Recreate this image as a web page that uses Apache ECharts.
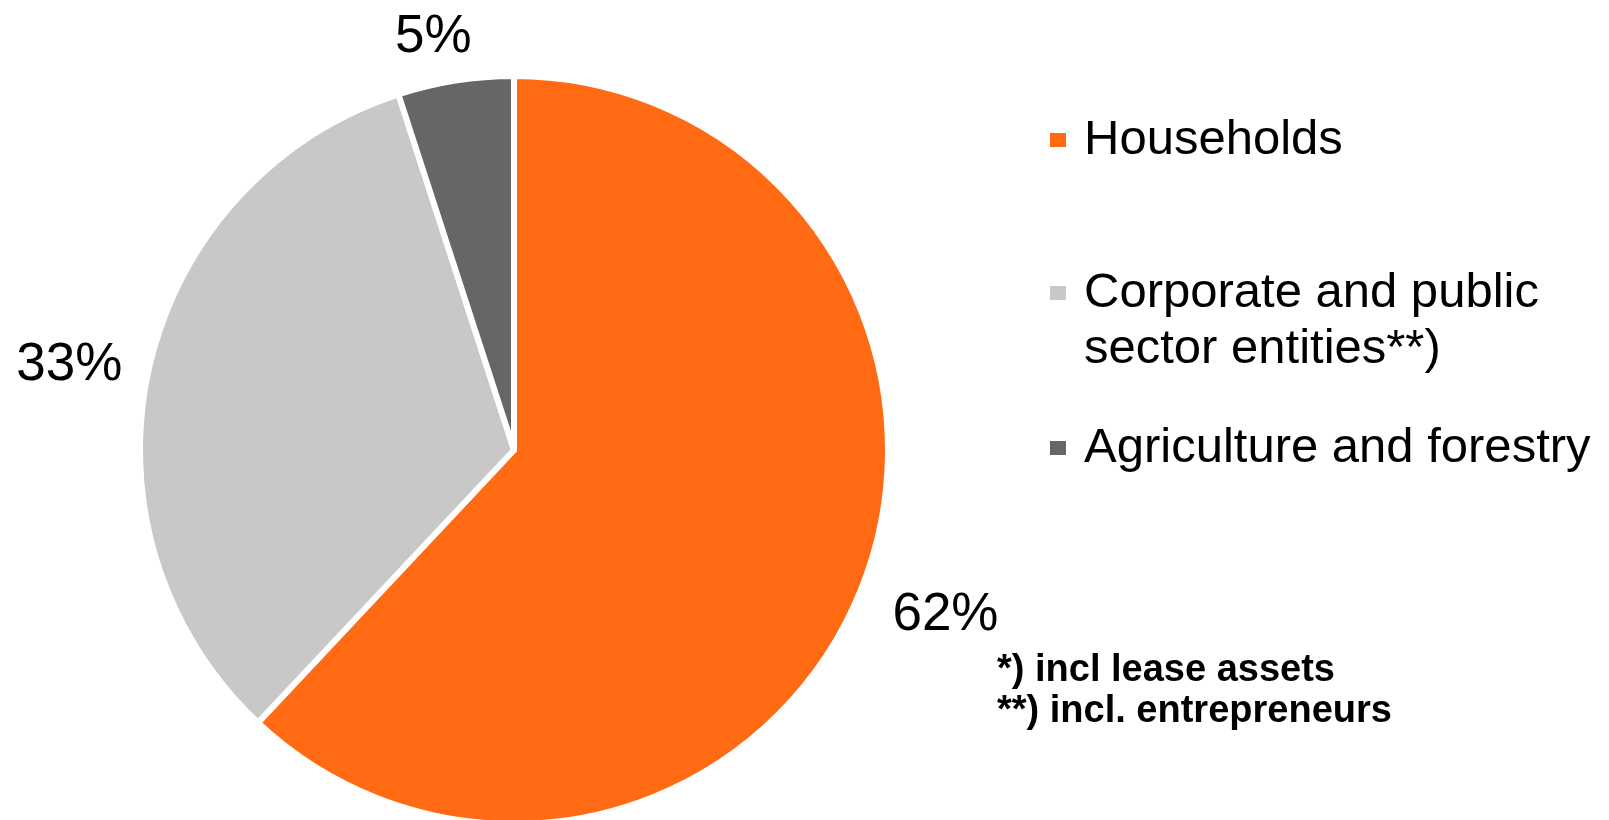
<!DOCTYPE html>
<html>
<head>
<meta charset="utf-8">
<title>Loan portfolio by customer group</title>
<script src="https://cdn.jsdelivr.net/npm/echarts@6/dist/echarts.min.js"></script>
<style>
  html, body { margin: 0; padding: 0; background: #fff; }
  #chart { width: 1609px; height: 820px; }
</style>
</head>
<body>
<div id="chart"></div>
<script>
// data
var categories = ['Households', 'Corporate and public\nsector entities**)', 'Agriculture and forestry'];
var shares = [62, 33, 5];
var footnotes = ['*) incl lease assets', '**) incl. entrepreneurs'];

// styling
var palette = ['#FF6A13', '#C8C8C8', '#666666'];
var fontFamily = '"Liberation Sans", Arial, sans-serif';
// label placement (labelLine hidden, only used to park the text)
var labelLen = [76, 13, 44];
var labelLen2 = [-45, 9, -28];

var chart = echarts.init(document.getElementById('chart'), null, { renderer: 'canvas' });

var pieData = [];
for (var i = 0; i < categories.length; i++) {
  pieData.push({
    name: categories[i],
    value: shares[i],
    labelLine: { show: false, length: labelLen[i], length2: labelLen2[i] }
  });
}

// one legend per entry so the uneven gaps can be kept
function legendFor(idx, top, blankFirst) {
  return {
    data: [categories[idx]],
    left: 1048,
    top: top,
    orient: 'vertical',
    padding: 0,
    icon: 'rect',
    itemWidth: 18,
    itemHeight: 16,
    selectedMode: false,
    // blank first line keeps the marker level with the first text line
    formatter: function (name) { return blankFirst ? ' \n' + name : name; },
    textStyle: {
      fontFamily: fontFamily,
      fontSize: 49,
      lineHeight: 56,
      color: '#000',
      padding: [0, 0, 0, 12]
    }
  };
}

var option = {
  animation: false,
  backgroundColor: '#fff',
  color: palette,
  legend: [
    legendFor(0, 112, false),
    legendFor(1, 209, true),
    legendFor(2, 420, false)
  ],
  title: {
    text: footnotes.join('\n'),
    left: 997,
    top: 650,
    padding: 0,
    textStyle: {
      fontFamily: fontFamily,
      fontSize: 38,
      fontWeight: 'bold',
      lineHeight: 41,
      color: '#000'
    }
  },
  series: [{
    type: 'pie',
    center: [514, 450],
    radius: 374,
    startAngle: 90,
    clockwise: true,
    avoidLabelOverlap: false,
    itemStyle: { borderColor: '#fff', borderWidth: 6 },
    emphasis: { disabled: true },
    label: {
      show: true,
      position: 'outside',
      formatter: '{c}%',
      fontFamily: fontFamily,
      fontSize: 53,
      color: '#000',
      distanceToLabelLine: 5
    },
    labelLine: { show: false },
    data: pieData
  }]
};

chart.setOption(option);
</script>
</body>
</html>
